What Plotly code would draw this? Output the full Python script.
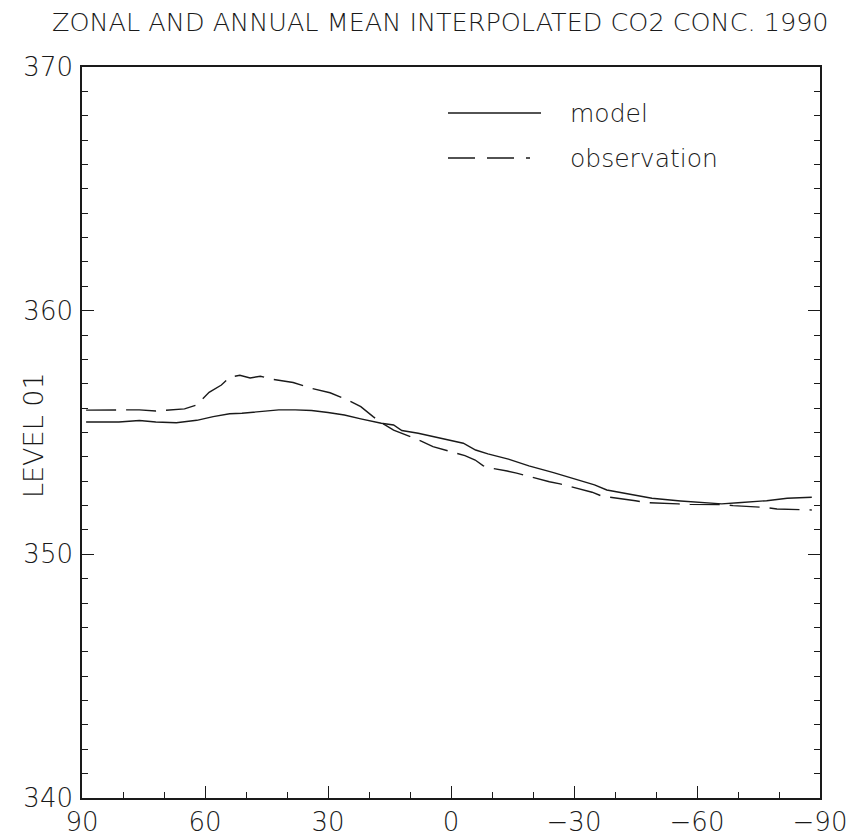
import plotly.graph_objects as go

# ---- data ----
model_lat = [89, 81, 76, 72, 67, 62, 58, 54, 51, 47, 42, 38, 34, 30, 26, 22, 17, 14, 12, 8, 4,
             -3, -6, -9, -14, -19, -25, -30, -35, -38, -43, -49, -56, -62, -66, -70, -77, -82, -88]
model_val = [355.43, 355.43, 355.49, 355.43, 355.40, 355.50, 355.65, 355.77, 355.79, 355.86, 355.93,
             355.93, 355.90, 355.82, 355.72, 355.56, 355.38, 355.31, 355.08, 354.97, 354.83,
             354.56, 354.28, 354.12, 353.91, 353.63, 353.35, 353.11, 352.85, 352.64, 352.48,
             352.30, 352.19, 352.12, 352.07, 352.12, 352.20, 352.30, 352.34]

obs_lat = [89, 80, 76, 72, 68, 65, 62, 59, 56, 54, 51.5, 49, 46.5, 43.5, 38.5, 34, 29.5, 25.5, 22,
           19, 16.5, 14, 7, 4.4, -3.4, -5.9, -7.8, -8.8, -13.7, -16, -24, -26.6, -34.4, -36.8,
           -45, -47.8, -55.4, -58.3, -66.3, -68.8, -77, -79.5, -88]
obs_val = [355.92, 355.94, 355.93, 355.88, 355.93, 355.97, 356.13, 356.65, 356.95, 357.27, 357.35,
           357.24, 357.31, 357.18, 357.05, 356.81, 356.63, 356.36, 356.06, 355.65, 355.35, 355.10,
           354.63, 354.42, 354.05, 353.87, 353.64, 353.57, 353.42, 353.33, 352.98, 352.89,
           352.55, 352.39, 352.20, 352.12, 352.07, 352.05, 352.04, 352.00, 351.92, 351.86, 351.82]

x_ticks = [90, 60, 30, 0, -30, -60, -90]
x_tick_text = ["90", "60", "30", "0", "\u221230", "\u221260", "\u221290"]
y_ticks = [340, 350, 360, 370]
y_tick_text = ["340", "350", "360", "370"]

title_text = "ZONAL AND ANNUAL MEAN INTERPOLATED CO2 CONC. 1990"
y_label = "LEVEL 01"
series_names = ["model", "observation"]

FONT = "DejaVu Sans"
INK = "#1a1a1a"

fig = go.Figure()
fig.add_trace(go.Scatter(x=model_lat, y=model_val, mode="lines", name=series_names[0],
                         line=dict(color=INK, width=1.4), showlegend=False))
fig.add_trace(go.Scatter(x=obs_lat, y=obs_val, mode="lines", name=series_names[1],
                         line=dict(color=INK, width=1.4, dash="30px,10px"), showlegend=False))

# legend drawn as sample lines + labels
legend_rows = [(1 - (113 - 67) / 731, "solid"), (1 - (158 - 67) / 731, "27px,12px,27px,12px,4px,12px")]
x0 = (448 - 82) / 738
x1 = (541 - 82) / 738
for (yy, dash), name in zip(legend_rows, series_names):
    fig.add_shape(type="line", xref="paper", yref="paper", x0=x0, x1=x1, y0=yy, y1=yy,
                  line=dict(color=INK, width=1.4, dash=dash))
    fig.add_annotation(xref="paper", yref="paper", x=(568 - 82) / 738, y=yy, text=name,
                       showarrow=False, xanchor="left", yanchor="middle",
                       font=dict(family=FONT, size=25, color=INK, weight=300))

fig.add_annotation(xref="paper", yref="paper", x=(440 - 82) / 738, y=1 + (67 - 22) / 731,
                   text=title_text, showarrow=False, xanchor="center", yanchor="middle",
                   font=dict(family=FONT, size=25.5, color=INK, weight=300))
fig.add_annotation(xref="paper", yref="paper", x=(33 - 82) / 738, y=1 - (435 - 67) / 731,
                   text=y_label, showarrow=False, textangle=-90, xanchor="center", yanchor="middle",
                   font=dict(family=FONT, size=27, color=INK, weight=300))

axis_common = dict(showgrid=False, zeroline=False, showline=True, linecolor=INK, linewidth=1.6,
                   ticks="inside", ticklen=12, tickwidth=1.3, tickcolor=INK, automargin=False,
                   tickfont=dict(family=FONT, size=26, color=INK, weight=300))

fig.update_xaxes(range=[90, -90], tickmode="array", tickvals=x_ticks, ticktext=x_tick_text,
                 mirror=True,
                 minor=dict(dtick=10, ticks="inside", ticklen=6, tickwidth=1.2,
                            tickcolor=INK, showgrid=False),
                 **axis_common)
fig.update_yaxes(range=[340, 370], tickmode="array", tickvals=y_ticks, ticktext=y_tick_text,
                 mirror="ticks", ticklabelstandoff=2,
                 minor=dict(dtick=1, ticks="inside", ticklen=6, tickwidth=1.2,
                            tickcolor=INK, showgrid=False),
                 **axis_common)

fig.update_layout(width=855, height=840, margin=dict(l=82, r=35, t=67, b=42),
                  plot_bgcolor="white", paper_bgcolor="white", showlegend=False)

fig.write_html("out.html")
